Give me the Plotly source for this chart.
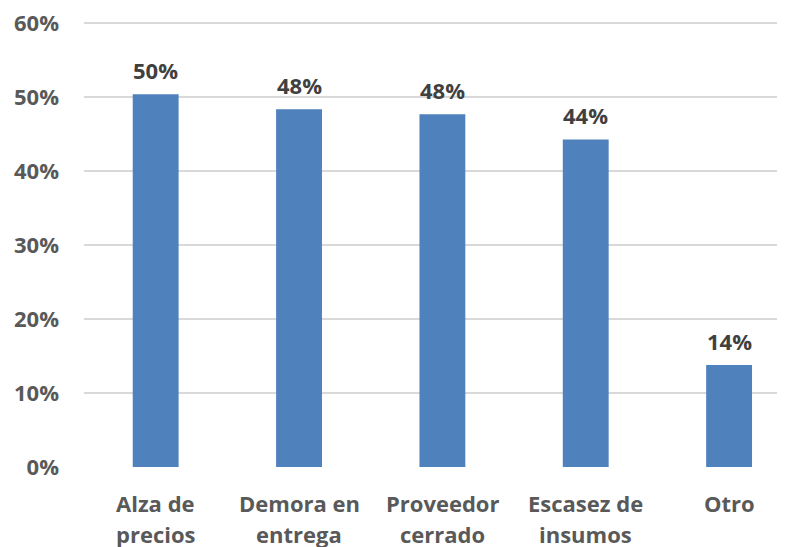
import plotly.graph_objects as go

categories = ["Alza de precios", "Demora en entrega", "Proveedor cerrado", "Escasez de insumos", "Otro"]
line1 = ["Alza de", "Demora en", "Proveedor", "Escasez de", "Otro"]
line2 = ["precios", "entrega", "cerrado", "insumos", ""]
values = [0.504, 0.484, 0.477, 0.443, 0.138]
ytick_vals = [0, 0.1, 0.2, 0.3, 0.4, 0.5, 0.6]
ytick_text = ["0%", "10%", "20%", "30%", "40%", "50%", "60%"]

FONT = "Open Sans"
TICK_COLOR = "#595959"
LABEL_COLOR = "#404040"
FS = 22

fig = go.Figure()
fig.add_trace(go.Bar(
    x=categories, y=values,
    marker=dict(color="#4f81bd", line=dict(width=0)),
    width=0.32,
    hoverinfo="skip",
))

annotations = []
for c, v in zip(categories, values):
    annotations.append(dict(
        x=c, y=v, xref="x", yref="y", text=f"<b>{round(v*100):.0f}%</b>",
        showarrow=False, yanchor="middle", yshift=24,
        font=dict(family=FONT, size=FS, color=LABEL_COLOR),
    ))
for c, a, b in zip(categories, line1, line2):
    annotations.append(dict(
        x=c, y=0, xref="x", yref="paper", text=f"<b>{a}</b>",
        showarrow=False, yanchor="middle", yshift=-36,
        font=dict(family=FONT, size=FS, color=TICK_COLOR),
    ))
    if b:
        annotations.append(dict(
            x=c, y=0, xref="x", yref="paper", text=f"<b>{b}</b>",
            showarrow=False, yanchor="middle", yshift=-67,
            font=dict(family=FONT, size=FS, color=TICK_COLOR),
        ))

fig.update_layout(
    width=777, height=539,
    margin=dict(l=76, r=0, t=8, b=80),
    paper_bgcolor="white", plot_bgcolor="white",
    showlegend=False,
    annotations=annotations,
    xaxis=dict(
        type="category", range=[-0.5, 4.39],
        showticklabels=False, showgrid=False, zeroline=False,
        showline=False, ticks="",
    ),
    yaxis=dict(
        range=[0, 0.61], tickvals=ytick_vals, ticktext=[f"<b>{t}</b>" for t in ytick_text],
        showgrid=True, gridcolor="#d9d9d9", gridwidth=2,
        zeroline=False, showline=False, ticks="",
        ticklabelstandoff=24, ticklabeloverflow="allow",
        tickfont=dict(family=FONT, size=FS, color=TICK_COLOR),
    ),
)

fig.write_html("out.html")
